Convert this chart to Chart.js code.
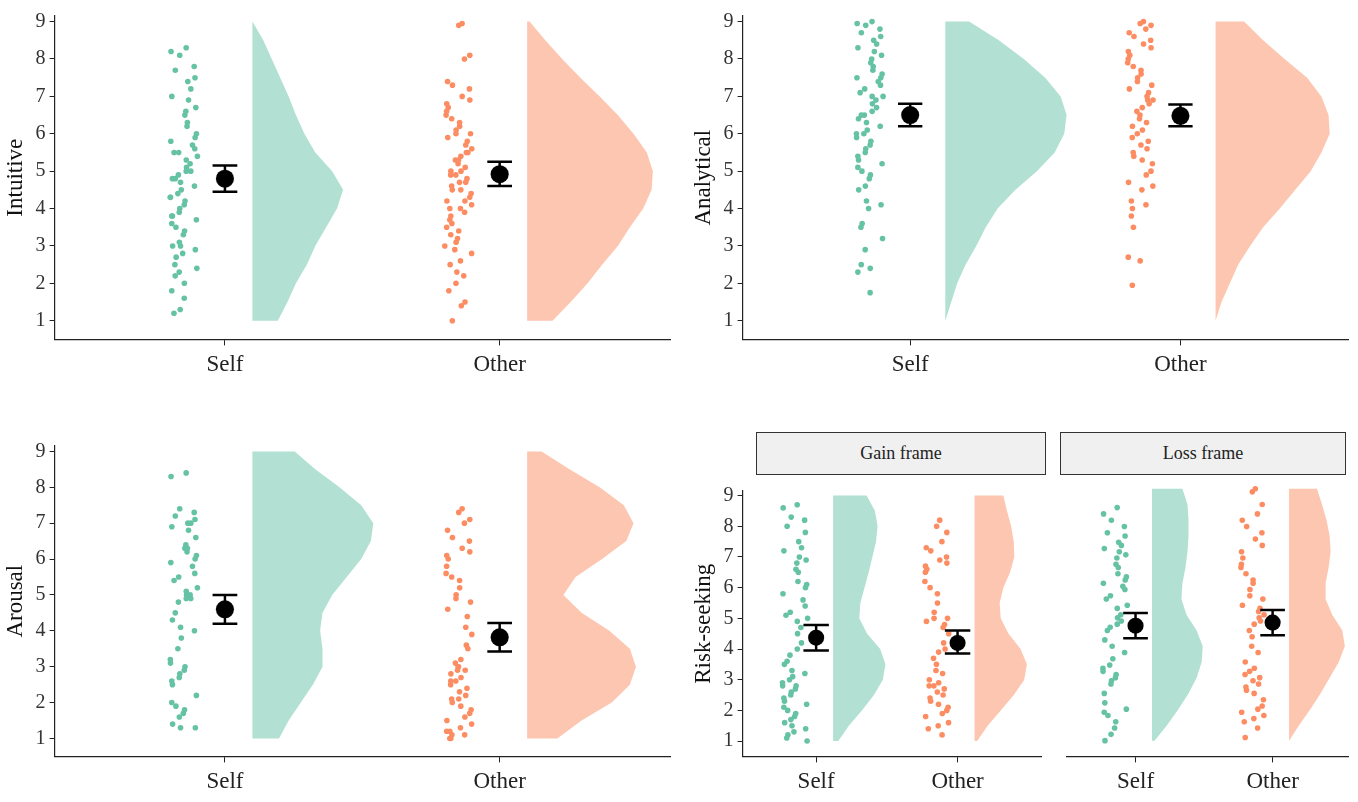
<!DOCTYPE html>
<html>
<head>
<meta charset="utf-8">
<script src="https://cdn.jsdelivr.net/npm/chart.js@4/dist/chart.umd.min.js"></script>
<style>
  body { margin: 0; background: #fff; width: 1358px; height: 802px; position: relative; overflow: hidden; font-family: "Liberation Serif", serif; }
  .box { position: absolute; }
  .strip { position: absolute; background: #f0f0f0; border: 1.5px solid #333; box-sizing: border-box; text-align: center; font-size: 18px; line-height: 40px; color: #222; }
</style>
</head>
<body>
<div class="box" style="left:0;top:0;width:680px;height:385px"><canvas id="intuitive"></canvas></div>
<div class="box" style="left:688px;top:0;width:670px;height:385px"><canvas id="analytical"></canvas></div>
<div class="box" style="left:0;top:430px;width:680px;height:372px"><canvas id="arousal"></canvas></div>
<div class="strip" style="left:756px;top:432px;width:290px;height:43px">Gain frame</div>
<div class="strip" style="left:1060px;top:432px;width:286px;height:43px">Loss frame</div>
<div class="box" style="left:688px;top:475px;width:362px;height:327px"><canvas id="gain"></canvas></div>
<div class="box" style="left:1058px;top:475px;width:300px;height:327px"><canvas id="loss"></canvas></div>
<script>
const green = '#66c2a5';
const orange = '#fc8d62';
const categories = ['Self', 'Other'];
const yTicks = [1, 2, 3, 4, 5, 6, 7, 8, 9];
const densityLevels = [1, 1.5, 2, 2.5, 3, 3.5, 4, 4.5, 5, 5.5, 6, 6.5, 7, 7.5, 8, 8.5, 9];

// raw ratings
const intuitiveSelf = [8.3,8.2,8.1,7.8,7.7,7.5,7.4,7.2,7.0,6.9,6.7,6.6,6.5,6.3,6.2,6.0,5.9,5.8,5.7,5.6,5.5,5.5,5.4,5.3,5.2,5.1,5.0,5.0,4.9,4.8,4.8,4.7,4.6,4.5,4.4,4.3,4.3,4.2,4.1,4.0,3.9,3.8,3.8,3.7,3.6,3.5,3.4,3.3,3.1,3.0,3.0,2.9,2.8,2.7,2.5,2.4,2.3,2.2,2.0,1.8,1.6,1.3,1.2];
const intuitiveOther = [8.95,8.9,8.1,8.0,7.4,7.3,7.2,7.0,6.9,6.8,6.7,6.6,6.5,6.4,6.3,6.2,6.1,6.0,6.0,5.9,5.8,5.7,5.6,5.5,5.5,5.4,5.3,5.3,5.2,5.1,5.0,5.0,4.9,4.9,4.8,4.7,4.7,4.6,4.5,4.5,4.4,4.3,4.2,4.2,4.1,4.0,4.0,3.9,3.8,3.7,3.6,3.5,3.4,3.3,3.2,3.1,3.0,2.9,2.8,2.6,2.5,2.3,2.2,2.0,1.8,1.5,1.4,1.0];
const analyticalSelf = [9.0,8.95,8.9,8.8,8.7,8.6,8.5,8.4,8.3,8.2,8.1,8.0,7.9,7.8,7.7,7.6,7.5,7.5,7.4,7.3,7.2,7.1,7.0,7.0,6.9,6.8,6.7,6.6,6.5,6.5,6.4,6.3,6.2,6.1,6.0,6.0,5.9,5.8,5.7,5.6,5.5,5.4,5.3,5.2,5.1,5.0,4.9,4.8,4.6,4.5,4.2,4.1,4.0,3.6,3.5,3.2,2.9,2.5,2.4,2.3,1.75];
const analyticalOther = [9.0,8.95,8.9,8.8,8.7,8.6,8.5,8.4,8.3,8.2,8.1,8.0,7.9,7.8,7.7,7.6,7.5,7.4,7.3,7.2,7.1,7.0,6.9,6.9,6.8,6.7,6.6,6.5,6.4,6.3,6.2,6.1,6.0,5.9,5.8,5.7,5.6,5.5,5.4,5.3,5.2,5.0,4.9,4.7,4.6,4.5,4.2,4.1,4.0,3.8,3.5,2.7,2.6,1.95];
const arousalSelf = [8.4,8.3,7.4,7.3,7.2,7.1,7.0,7.0,6.9,6.8,6.6,6.4,6.3,6.3,6.2,6.1,6.0,5.9,5.8,5.6,5.5,5.4,5.2,5.1,5.0,5.0,4.9,4.9,4.8,4.5,4.3,4.1,4.0,3.8,3.5,3.2,3.1,3.0,2.9,2.8,2.7,2.6,2.5,2.2,2.0,1.9,1.8,1.7,1.6,1.4,1.3,1.3];
const arousalOther = [7.4,7.3,7.1,7.0,6.8,6.6,6.5,6.3,6.2,6.1,6.0,5.8,5.6,5.5,5.4,5.2,5.0,4.9,4.8,4.6,4.4,4.1,3.9,3.6,3.5,3.2,3.1,3.0,3.0,2.9,2.8,2.7,2.6,2.5,2.4,2.3,2.2,2.1,2.0,1.9,1.8,1.7,1.6,1.5,1.4,1.3,1.2,1.1,1.0,1.0,1.1,1.2,2.1,2.6,2.9];
const gainSelf = [8.7,8.6,8.3,8.2,8.0,7.8,7.5,7.3,7.2,7.0,6.9,6.8,6.6,6.5,6.2,6.1,6.0,5.8,5.6,5.4,5.2,5.1,5.0,4.9,4.7,4.5,4.2,4.0,3.8,3.6,3.5,3.3,3.2,3.1,3.0,2.9,2.8,2.8,2.7,2.6,2.5,2.4,2.3,2.2,2.1,2.0,1.9,1.8,1.7,1.6,1.5,1.4,1.3,1.2,1.1,1.0];
const gainOther = [8.2,8.0,7.8,7.5,7.3,7.2,7.0,6.9,6.8,6.7,6.6,6.5,6.2,6.0,5.8,5.5,5.2,5.0,5.0,4.9,4.8,4.7,4.5,4.2,4.0,3.9,3.7,3.5,3.3,3.2,3.0,2.9,2.8,2.8,2.7,2.6,2.5,2.4,2.3,2.2,2.1,2.0,1.9,1.8,1.6,1.5,1.4,1.2];
const lossSelf = [8.4,8.2,8.0,7.8,7.6,7.5,7.3,7.2,7.1,7.0,6.9,6.8,6.6,6.5,6.3,6.2,6.1,6.0,5.9,5.8,5.6,5.5,5.3,5.2,5.0,4.9,4.8,4.7,4.6,4.5,4.2,4.0,3.8,3.6,3.4,3.3,3.2,3.1,3.0,2.9,2.8,2.5,2.2,2.0,1.9,1.8,1.6,1.4,1.2,1.0];
const lossOther = [9.0,8.9,8.5,8.2,8.0,7.8,7.6,7.4,7.2,7.0,6.8,6.6,6.5,6.3,6.1,6.0,5.8,5.6,5.5,5.3,5.2,5.1,5.0,4.9,4.8,4.7,4.5,4.3,4.0,3.8,3.5,3.3,3.2,3.1,3.0,2.9,2.8,2.7,2.6,2.5,2.3,2.1,2.0,1.9,1.8,1.7,1.6,1.4,1.1];

// half-violin densities at densityLevels (relative width)
const intuitiveSelfDens = [0.21,0.29,0.36,0.45,0.52,0.61,0.7,0.75,0.66,0.52,0.43,0.36,0.3,0.23,0.16,0.09,0.0];
const intuitiveOtherDens = [0.21,0.36,0.5,0.62,0.75,0.85,0.96,1.03,1.04,0.99,0.88,0.75,0.6,0.44,0.29,0.15,0.02];
const analyticalSelfDens = [0.0,0.05,0.1,0.17,0.26,0.34,0.44,0.59,0.77,0.92,1.0,1.02,0.97,0.84,0.66,0.45,0.2];
const analyticalOtherDens = [0.0,0.05,0.12,0.19,0.29,0.4,0.54,0.67,0.8,0.89,0.96,0.95,0.89,0.77,0.58,0.4,0.24];
const arousalSelfDens = [0.22,0.3,0.4,0.5,0.58,0.58,0.56,0.58,0.66,0.78,0.9,0.98,1.0,0.9,0.72,0.52,0.35];
const arousalOtherDens = [0.25,0.45,0.7,0.85,0.9,0.85,0.68,0.45,0.3,0.4,0.62,0.82,0.88,0.8,0.6,0.35,0.12];
const gainSelfDens = [0.1,0.3,0.55,0.78,0.95,1.0,0.9,0.65,0.5,0.52,0.6,0.68,0.75,0.82,0.85,0.8,0.64];
const gainOtherDens = [0.05,0.25,0.5,0.75,0.95,1.0,0.88,0.65,0.5,0.48,0.55,0.68,0.76,0.75,0.7,0.62,0.55];
const lossSelfDens = [0.05,0.3,0.52,0.72,0.88,0.98,1.0,0.88,0.68,0.58,0.6,0.66,0.7,0.72,0.72,0.7,0.6];
const lossOtherDens = [0.0,0.2,0.42,0.62,0.8,0.98,1.1,1.05,0.85,0.72,0.72,0.78,0.82,0.8,0.74,0.65,0.55];

// mean, lower, upper
const intuitiveSelfMean = [4.8, 4.45, 5.15];
const intuitiveOtherMean = [4.92, 4.6, 5.25];
const analyticalSelfMean = [6.5, 6.2, 6.8];
const analyticalOtherMean = [6.48, 6.2, 6.78];
const arousalSelfMean = [4.6, 4.2, 5.0];
const arousalOtherMean = [3.82, 3.42, 4.22];
const gainSelfMean = [4.37, 3.95, 4.78];
const gainOtherMean = [4.2, 3.85, 4.6];
const lossSelfMean = [4.65, 4.25, 5.05];
const lossOtherMean = [4.75, 4.35, 5.15];

// scatter the dots sideways (jitter), deterministic
function jitter(i) {
  const s = Math.sin(i * 12.9898 + 78.233) * 43758.5453;
  return s - Math.floor(s) - 0.5;
}

function groupSets(center, color, fillColor, vals, dens, mean, cfg) {
  const dots = vals.map((v, i) => ({ x: center - cfg.dotOff + jitter(i + center * 100) * cfg.jit, y: v }));
  const base = center + cfg.vBase;
  const poly = [{ x: base, y: densityLevels[0] }];
  densityLevels.forEach((lv, i) => poly.push({ x: base + dens[i] * cfg.vWidth, y: lv }));
  poly.push({ x: base, y: densityLevels[densityLevels.length - 1] });
  poly.push({ x: base, y: densityLevels[0] });
  const cw = cfg.cap;
  const err = [
    { x: center, y: mean[1] }, { x: center, y: mean[2] }, { x: center, y: null },
    { x: center - cw, y: mean[2] }, { x: center + cw, y: mean[2] }, { x: center, y: null },
    { x: center - cw, y: mean[1] }, { x: center + cw, y: mean[1] }
  ];
  return [
    { type: 'line', data: poly, borderWidth: 0, borderColor: 'rgba(0,0,0,0)', backgroundColor: fillColor, fill: 'shape', pointRadius: 0, tension: 0, order: 3 },
    { type: 'scatter', data: dots, backgroundColor: color, borderWidth: 0, pointRadius: cfg.dot, order: 2 },
    { type: 'line', data: err, borderColor: '#000', borderWidth: 2.5, pointRadius: 0, spanGaps: false, fill: false, order: 1 },
    { type: 'scatter', data: [{ x: center, y: mean[0] }], backgroundColor: '#000', pointRadius: cfg.meanR, order: 0 }
  ];
}

function makeChart(id, title, self, other, cfg) {
  const datasets = [
    ...groupSets(1, green, 'rgba(102,194,165,0.5)', self[0], self[1], self[2], cfg),
    ...groupSets(2, orange, 'rgba(252,141,98,0.5)', other[0], other[1], other[2], cfg)
  ];
  const tickFont = { family: 'Liberation Serif', size: cfg.font };
  new Chart(document.getElementById(id), {
    type: 'scatter',
    data: { datasets },
    options: {
      responsive: true,
      maintainAspectRatio: false,
      animation: false,
      layout: { padding: cfg.pad },
      plugins: { legend: { display: false }, tooltip: { enabled: false } },
      scales: {
        x: {
          type: 'linear', min: cfg.xMin, max: cfg.xMax,
          afterBuildTicks: ax => { ax.ticks = [{ value: 1 }, { value: 2 }]; },
          ticks: { callback: v => categories[v - 1], color: '#222', font: { family: 'Liberation Serif', size: 23 }, padding: 6 },
          grid: { drawOnChartArea: false, drawTicks: true, tickLength: 6, color: '#222' },
          border: { display: true, color: '#222', width: 1.2 }
        },
        y: {
          display: cfg.showY, min: cfg.yMin, max: 9.15,
          afterBuildTicks: ax => { ax.ticks = yTicks.map(v => ({ value: v })); },
          ticks: { color: '#333', font: tickFont, padding: 4 },
          grid: { drawOnChartArea: false, drawTicks: true, tickLength: 5, color: '#222' },
          border: { display: true, color: '#222', width: 1.2 },
          title: { display: !!title, text: title, color: '#111', font: { family: 'Liberation Serif', size: 23 }, padding: 2 }
        }
      }
    }
  });
}

const big = { dotOff: 0.15, jit: 0.1, vBase: 0.1, vWidth: 0.44, cap: 0.045, dot: 2.8, meanR: 9, font: 20, xMin: 0.38, xMax: 2.62, yMin: 0.5, showY: true, pad: { top: 6, right: 10 } };
makeChart('intuitive', 'Intuitive', [intuitiveSelf, intuitiveSelfDens, intuitiveSelfMean], [intuitiveOther, intuitiveOtherDens, intuitiveOtherMean], big);
makeChart('analytical', 'Analytical', [analyticalSelf, analyticalSelfDens, analyticalSelfMean], [analyticalOther, analyticalOtherDens, analyticalOtherMean], Object.assign({}, big, { vBase: 0.13 }));
makeChart('arousal', 'Arousal', [arousalSelf, arousalSelfDens, arousalSelfMean], [arousalOther, arousalOtherDens, arousalOtherMean], big);
const small = { dotOff: 0.15, jit: 0.18, vBase: 0.12, vWidth: 0.37, cap: 0.09, dot: 2.8, meanR: 8, font: 20, xMin: 0.48, xMax: 2.59, yMin: 0.5, showY: true, pad: { top: 6, right: 2 } };
makeChart('gain', 'Risk-seeking', [gainSelf, gainSelfDens, gainSelfMean], [gainOther, gainOtherDens, gainOtherMean], small);
makeChart('loss', '', [lossSelf, lossSelfDens, lossSelfMean], [lossOther, lossOtherDens, lossOtherMean], Object.assign({}, small, { showY: false, xMin: 0.5, xMax: 2.55, pad: { top: 6, right: 10, left: 2 } }));
</script>
</body>
</html>
